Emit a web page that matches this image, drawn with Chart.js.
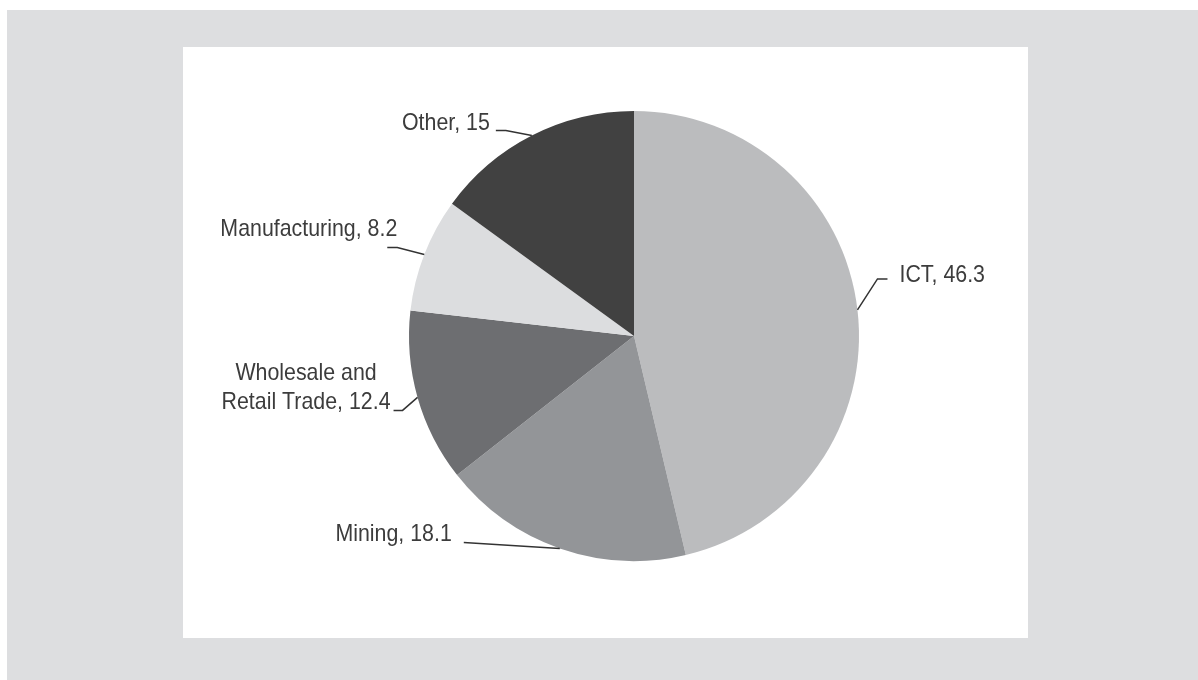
<!DOCTYPE html>
<html>
<head>
<meta charset="utf-8">
<script src="https://cdn.jsdelivr.net/npm/chart.js@4/dist/chart.umd.min.js"></script>
<style>
  body { margin: 0; background: #fff; }
  #frame { position: absolute; left: 7px; top: 10px; width: 1191px; height: 670px; background: #dddee0; }
  #panel { position: absolute; left: 183px; top: 47px; width: 845px; height: 591px; background: #fff; }
  #wrap { position: absolute; left: 0; top: 0; width: 1198px; height: 680px; }
</style>
</head>
<body>
<div id="frame"></div>
<div id="panel"></div>
<div id="wrap"><canvas id="pieChart"></canvas></div>
<script>
const sectors = ["ICT", "Mining", "Wholesale and Retail Trade", "Manufacturing", "Other"];
const shares = [46.3, 18.1, 12.4, 8.2, 15];
const labelLines = [["ICT, 46.3"], ["Mining, 18.1"], ["Wholesale and", "Retail Trade, 12.4"], ["Manufacturing, 8.2"], ["Other, 15"]];
const sliceColors = ["#bbbcbe", "#939598", "#6d6e71", "#dcdddf", "#414141"];

// leader geometry, relative to the point on the rim at each slice's mid angle
// elbow: bend point, end: tail of the line, text: offset of the text anchor from the tail
const leaders = [
  { elbow: [20, -31], end: [30, -31], text: [12, -4], align: "left" },
  { elbow: [-96, -6], end: [-96, -6], text: [-12, -8], align: "right" },
  { elbow: [-15, 13], end: [-24, 13], text: [-3, -8], align: "right" },
  { elbow: [-27, -7], end: [-37, -7], text: [10, -18], align: "right" },
  { elbow: [-26, -5], end: [-36, -5], text: [-6, -7], align: "right" },
];

// condensed look: regular sans squeezed horizontally
const FONT = '24px "Liberation Sans", Arial, sans-serif';
const SQUEEZE = 0.89;
const LINE_HEIGHT = 29;

function drawText(ctx, text, x, y, align) {
  const w = ctx.measureText(text).width * SQUEEZE;
  let left = x;
  if (align === "right") left = x - w;
  else if (align === "center") left = x - w / 2;
  ctx.save();
  ctx.translate(left, y);
  ctx.scale(SQUEEZE, 1);
  ctx.textAlign = "left";
  ctx.fillText(text, 0, 0);
  ctx.restore();
}

const leaderPlugin = {
  id: "leaderLabels",
  afterDatasetsDraw(chart) {
    const ctx = chart.ctx;
    const meta = chart.getDatasetMeta(0);
    ctx.save();
    ctx.font = FONT;
    ctx.fillStyle = "#3c3c3c";
    ctx.strokeStyle = "#333333";
    ctx.lineWidth = 1.5;
    ctx.textBaseline = "middle";
    meta.data.forEach((arc, i) => {
      const p = arc.getProps(["x", "y", "startAngle", "endAngle", "outerRadius"], true);
      const mid = (p.startAngle + p.endAngle) / 2;
      const rx = p.x + Math.cos(mid) * p.outerRadius;
      const ry = p.y + Math.sin(mid) * p.outerRadius;
      const l = leaders[i];
      const ex = rx + l.end[0], ey = ry + l.end[1];
      ctx.beginPath();
      ctx.moveTo(rx, ry);
      ctx.lineTo(rx + l.elbow[0], ry + l.elbow[1]);
      ctx.lineTo(ex, ey);
      ctx.stroke();

      const lines = labelLines[i];
      const tx = ex + l.text[0];
      const ty = ey + l.text[1];
      const lastW = ctx.measureText(lines[lines.length - 1]).width * SQUEEZE;
      lines.forEach((line, k) => {
        const y = ty - (lines.length - 1 - k) * LINE_HEIGHT;
        if (k < lines.length - 1) {
          // upper lines are centred over the last one
          drawText(ctx, line, tx - lastW / 2, y, "center");
        } else {
          drawText(ctx, line, tx, y, l.align);
        }
      });
    });
    ctx.restore();
  },
};

new Chart(document.getElementById("pieChart"), {
  type: "pie",
  data: {
    labels: sectors,
    datasets: [
      {
        data: shares,
        backgroundColor: sliceColors,
        borderWidth: 0,
      },
    ],
  },
  options: {
    responsive: true,
    maintainAspectRatio: false,
    animation: false,
    layout: {
      padding: { left: 409, right: 339, top: 111, bottom: 119 },
    },
    plugins: {
      legend: { display: false },
      tooltip: { enabled: false },
    },
  },
  plugins: [leaderPlugin],
});
</script>
</body>
</html>
